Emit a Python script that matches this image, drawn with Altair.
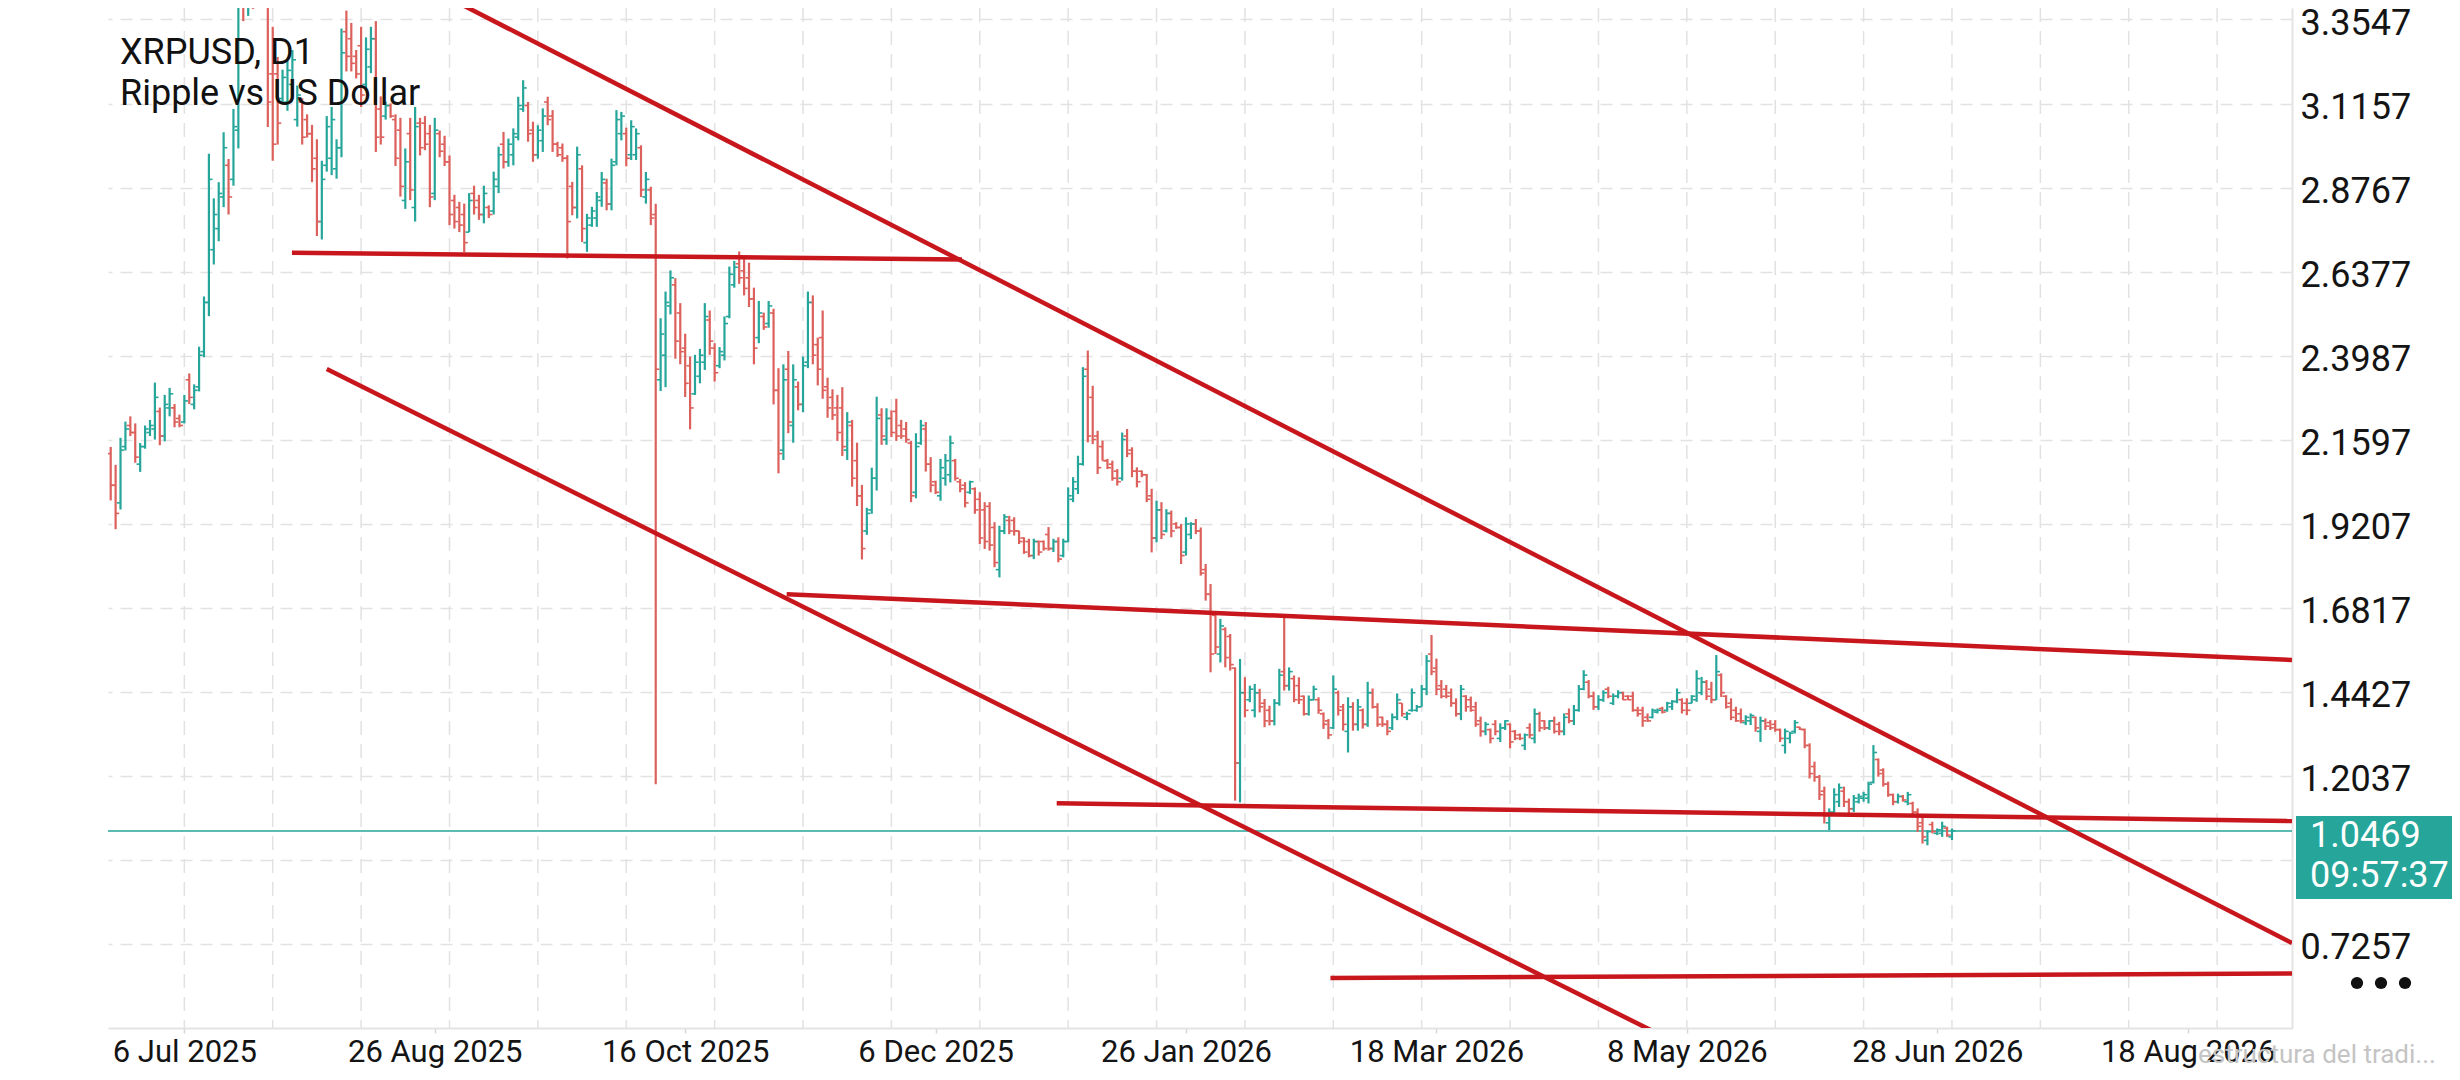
import altair as alt
import pandas as pd

# ------------------------------------------------------------------ data
first_day = "2025-06-21"

opens = [
    2.12, 2.03, 1.98, 2.14, 2.20, 2.18, 2.09, 2.14, 2.18, 2.19,
    2.24, 2.17, 2.25, 2.25, 2.22, 2.21, 2.33, 2.26, 2.31, 2.41,
    2.55, 2.70, 2.76, 2.85, 2.94, 2.90, 3.04, 3.55, 3.40, 3.55,
    3.46, 3.57, 3.45, 3.20, 3.20, 3.13, 3.12, 3.17, 3.07, 3.12,
    3.07, 3.03, 2.96, 2.78, 2.94, 2.96, 2.93, 2.99, 3.32, 3.30,
    3.25, 3.28, 3.17, 3.22, 3.30, 3.10, 3.08, 3.11, 3.07, 3.04,
    2.84, 3.03, 2.82, 3.06, 3.06, 3.03, 2.86, 3.03, 3.00, 2.95,
    2.84, 2.82, 2.80, 2.75, 2.86, 2.84, 2.80, 2.82, 2.81, 2.88,
    3.00, 2.95, 2.97, 3.02, 3.10, 3.11, 3.04, 2.97, 3.01, 3.12,
    3.08, 3.00, 2.99, 2.96, 2.88, 2.82, 2.93, 2.72, 2.77, 2.79,
    2.84, 2.89, 2.83, 2.95, 3.03, 3.03, 2.97, 2.97, 2.99, 2.85,
    2.87, 2.80, 2.33, 2.40, 2.54, 2.60, 2.52, 2.42, 2.37, 2.29,
    2.34, 2.38, 2.50, 2.42, 2.37, 2.40, 2.51, 2.60, 2.66, 2.64,
    2.62, 2.56, 2.45, 2.51, 2.49, 2.52, 2.30, 2.13, 2.36, 2.20,
    2.31, 2.26, 2.38, 2.55, 2.43, 2.45, 2.31, 2.28, 2.25, 2.25,
    2.13, 2.20, 2.10, 2.00, 1.90, 1.96, 2.05, 2.23, 2.16, 2.22,
    2.24, 2.20, 2.19, 2.15, 2.01, 2.15, 2.19, 2.09, 2.04, 2.00,
    2.05, 2.06, 2.10, 2.04, 2.03, 2.01, 2.02, 1.99, 1.96, 1.97,
    1.91, 1.79, 1.90, 1.93, 1.93, 1.90, 1.88, 1.87, 1.83, 1.87,
    1.87, 1.89, 1.85, 1.87, 1.83, 1.87, 1.99, 2.02, 2.09, 2.36,
    2.28, 2.17, 2.14, 2.10, 2.09, 2.07, 2.05, 2.17, 2.13, 2.07,
    2.07, 2.06, 2.00, 1.88, 1.96, 1.90, 1.95, 1.92, 1.91, 1.84,
    1.89, 1.92, 1.90, 1.79, 1.72, 1.66, 1.55, 1.62, 1.60, 1.51,
    1.24, 1.44, 1.42, 1.39, 1.44, 1.41, 1.39, 1.36, 1.41, 1.50,
    1.46, 1.48, 1.46, 1.43, 1.38, 1.42, 1.42, 1.38, 1.36, 1.34,
    1.44, 1.40, 1.33, 1.40, 1.35, 1.39, 1.35, 1.44, 1.40, 1.37,
    1.35, 1.34, 1.37, 1.41, 1.37, 1.39, 1.39, 1.40, 1.45, 1.55,
    1.51, 1.46, 1.45, 1.44, 1.41, 1.38, 1.43, 1.42, 1.40, 1.36,
    1.33, 1.335, 1.35, 1.31, 1.34, 1.35, 1.33, 1.32, 1.29, 1.34,
    1.31, 1.38, 1.36, 1.34, 1.36, 1.35, 1.33, 1.38, 1.36, 1.39,
    1.45, 1.47, 1.43, 1.40, 1.42, 1.45, 1.41, 1.43, 1.44, 1.43,
    1.43, 1.39, 1.39, 1.37, 1.37, 1.385, 1.395, 1.39, 1.40, 1.415,
    1.42, 1.41, 1.41, 1.42, 1.44, 1.47, 1.45, 1.42, 1.49, 1.43,
    1.41, 1.39, 1.38, 1.355, 1.36, 1.37, 1.33, 1.36, 1.355, 1.35,
    1.335, 1.29, 1.31, 1.33, 1.342, 1.335, 1.29, 1.23, 1.20, 1.16,
    1.07, 1.10, 1.13, 1.16, 1.13, 1.11, 1.13, 1.14, 1.14, 1.185,
    1.25, 1.22, 1.18, 1.15, 1.13, 1.145, 1.13, 1.125, 1.10, 1.07,
    1.02, 1.065, 1.04, 1.04, 1.055, 1.03,
]

highs = [
    2.139, 2.088, 2.165, 2.211, 2.226, 2.206, 2.150, 2.200, 2.216, 2.322,
    2.251, 2.287, 2.307, 2.261, 2.231, 2.287, 2.348, 2.317, 2.424, 2.567,
    2.973, 2.846, 2.892, 3.034, 2.958, 3.100, 3.55, 3.62, 3.63, 3.60,
    3.62, 3.60, 3.50, 3.334, 3.248, 3.212, 3.238, 3.268, 3.167, 3.131,
    3.085, 3.055, 3.014, 2.953, 3.080, 3.106, 3.014, 3.329, 3.380, 3.345,
    3.268, 3.334, 3.304, 3.334, 3.350, 3.136, 3.121, 3.116, 3.085, 3.075,
    2.988, 3.075, 3.106, 3.075, 3.080, 3.055, 3.075, 3.039, 3.024, 2.968,
    2.856, 2.836, 2.831, 2.861, 2.882, 2.856, 2.882, 2.826, 2.922, 2.993,
    3.035, 3.016, 3.045, 3.135, 3.182, 3.120, 3.064, 3.054, 3.102, 3.135,
    3.097, 3.007, 3.002, 2.969, 2.893, 2.993, 2.940, 2.802, 2.822, 2.864,
    2.921, 2.902, 2.959, 3.097, 3.092, 3.047, 3.068, 3.045, 2.997, 2.921,
    2.879, 2.831, 2.505, 2.581, 2.641, 2.619, 2.548, 2.461, 2.396, 2.401,
    2.418, 2.548, 2.527, 2.434, 2.423, 2.510, 2.652, 2.668, 2.695, 2.679,
    2.663, 2.592, 2.554, 2.521, 2.554, 2.532, 2.363, 2.374, 2.412, 2.374,
    2.325, 2.396, 2.581, 2.570, 2.450, 2.527, 2.336, 2.303, 2.287, 2.309,
    2.238, 2.216, 2.151, 2.031, 1.966, 2.080, 2.282, 2.249, 2.249, 2.243,
    2.276, 2.216, 2.210, 2.156, 2.178, 2.216, 2.210, 2.110, 2.043, 2.105,
    2.119, 2.171, 2.105, 2.048, 2.039, 2.043, 2.024, 2.010, 1.982, 1.982,
    1.925, 1.915, 1.948, 1.943, 1.939, 1.901, 1.882, 1.878, 1.878, 1.873,
    1.873, 1.911, 1.878, 1.882, 1.878, 2.024, 2.053, 2.114, 2.366, 2.413,
    2.313, 2.185, 2.157, 2.105, 2.100, 2.076, 2.180, 2.190, 2.138, 2.081,
    2.072, 2.062, 2.020, 1.986, 1.982, 1.962, 1.958, 1.925, 1.920, 1.939,
    1.925, 1.934, 1.910, 1.806, 1.749, 1.668, 1.650, 1.626, 1.607, 1.512,
    1.536, 1.484, 1.460, 1.465, 1.451, 1.422, 1.403, 1.422, 1.508, 1.659,
    1.512, 1.489, 1.484, 1.432, 1.432, 1.460, 1.427, 1.384, 1.365, 1.489,
    1.446, 1.408, 1.427, 1.413, 1.422, 1.395, 1.471, 1.452, 1.410, 1.372,
    1.362, 1.381, 1.438, 1.410, 1.386, 1.452, 1.405, 1.462, 1.547, 1.604,
    1.537, 1.476, 1.462, 1.452, 1.424, 1.462, 1.433, 1.429, 1.414, 1.372,
    1.357, 1.338, 1.362, 1.353, 1.362, 1.353, 1.334, 1.324, 1.324, 1.353,
    1.395, 1.386, 1.362, 1.362, 1.372, 1.357, 1.381, 1.395, 1.405, 1.462,
    1.504, 1.476, 1.443, 1.433, 1.447, 1.457, 1.438, 1.447, 1.443, 1.433,
    1.443, 1.400, 1.400, 1.381, 1.395, 1.395, 1.400, 1.414, 1.419, 1.452,
    1.424, 1.424, 1.433, 1.504, 1.485, 1.476, 1.471, 1.547, 1.495, 1.433,
    1.424, 1.400, 1.395, 1.376, 1.381, 1.372, 1.372, 1.367, 1.362, 1.362,
    1.338, 1.338, 1.329, 1.362, 1.343, 1.338, 1.296, 1.244, 1.206, 1.173,
    1.111, 1.168, 1.182, 1.173, 1.139, 1.149, 1.153, 1.158, 1.187, 1.291,
    1.253, 1.225, 1.187, 1.153, 1.153, 1.149, 1.158, 1.130, 1.111, 1.087,
    1.049, 1.073, 1.054, 1.073, 1.059, 1.054,
]

lows = [
    1.987, 1.905, 1.961, 2.129, 2.170, 2.094, 2.068, 2.134, 2.170, 2.160,
    2.144, 2.155, 2.226, 2.195, 2.195, 2.206, 2.261, 2.246, 2.297, 2.394,
    2.511, 2.658, 2.724, 2.821, 2.800, 2.882, 2.988, 3.350, 3.365, 3.385,
    3.42, 3.41, 3.049, 2.953, 2.999, 3.116, 3.095, 3.136, 3.050, 2.999,
    3.019, 2.892, 2.739, 2.729, 2.922, 2.912, 2.902, 2.963, 3.207, 3.207,
    3.187, 3.106, 3.156, 3.202, 2.978, 2.999, 3.070, 3.075, 2.938, 2.851,
    2.816, 2.841, 2.780, 2.968, 2.983, 2.821, 2.841, 2.963, 2.938, 2.770,
    2.760, 2.750, 2.693, 2.750, 2.800, 2.785, 2.775, 2.790, 2.800, 2.861,
    2.931, 2.936, 2.940, 3.011, 3.092, 3.007, 2.950, 2.959, 2.978, 3.054,
    2.978, 2.964, 2.950, 2.675, 2.798, 2.789, 2.722, 2.694, 2.765, 2.765,
    2.822, 2.812, 2.812, 2.940, 3.011, 2.937, 2.955, 2.955, 2.850, 2.831,
    2.770, 1.180, 2.298, 2.309, 2.516, 2.390, 2.374, 2.281, 2.189, 2.287,
    2.320, 2.358, 2.401, 2.325, 2.363, 2.385, 2.505, 2.592, 2.603, 2.570,
    2.537, 2.374, 2.434, 2.472, 2.478, 2.260, 2.064, 2.102, 2.178, 2.151,
    2.243, 2.238, 2.363, 2.374, 2.314, 2.276, 2.222, 2.216, 2.156, 2.113,
    2.102, 2.026, 1.971, 1.819, 1.889, 1.949, 2.015, 2.145, 2.145, 2.167,
    2.156, 2.162, 2.151, 1.982, 1.993, 2.145, 2.069, 2.010, 2.005, 1.986,
    2.029, 2.038, 2.043, 2.010, 1.967, 2.005, 1.949, 1.863, 1.849, 1.844,
    1.797, 1.768, 1.891, 1.891, 1.887, 1.863, 1.835, 1.825, 1.820, 1.830,
    1.844, 1.844, 1.840, 1.811, 1.825, 1.868, 1.982, 2.005, 2.086, 2.152,
    2.147, 2.062, 2.100, 2.076, 2.043, 2.029, 2.043, 2.110, 2.053, 2.024,
    2.053, 1.982, 1.839, 1.868, 1.877, 1.896, 1.882, 1.906, 1.806, 1.830,
    1.877, 1.891, 1.773, 1.702, 1.498, 1.550, 1.526, 1.512, 1.503, 1.133,
    1.128, 1.370, 1.413, 1.370, 1.384, 1.342, 1.347, 1.347, 1.403, 1.446,
    1.446, 1.413, 1.408, 1.375, 1.375, 1.418, 1.380, 1.337, 1.308, 1.337,
    1.375, 1.332, 1.270, 1.332, 1.332, 1.338, 1.343, 1.395, 1.343, 1.343,
    1.319, 1.334, 1.362, 1.372, 1.362, 1.386, 1.386, 1.400, 1.433, 1.490,
    1.433, 1.424, 1.424, 1.400, 1.372, 1.362, 1.386, 1.386, 1.343, 1.315,
    1.319, 1.296, 1.319, 1.300, 1.334, 1.282, 1.305, 1.305, 1.277, 1.310,
    1.296, 1.329, 1.334, 1.334, 1.324, 1.319, 1.319, 1.353, 1.348, 1.386,
    1.447, 1.424, 1.391, 1.391, 1.414, 1.424, 1.405, 1.424, 1.419, 1.419,
    1.386, 1.372, 1.343, 1.357, 1.367, 1.381, 1.381, 1.386, 1.391, 1.410,
    1.381, 1.376, 1.410, 1.414, 1.433, 1.419, 1.410, 1.419, 1.428, 1.395,
    1.362, 1.357, 1.353, 1.348, 1.348, 1.329, 1.300, 1.334, 1.334, 1.329,
    1.300, 1.267, 1.296, 1.324, 1.334, 1.282, 1.196, 1.187, 1.135, 1.068,
    1.049, 1.097, 1.115, 1.115, 1.097, 1.101, 1.125, 1.130, 1.125, 1.182,
    1.201, 1.173, 1.144, 1.120, 1.125, 1.130, 1.120, 1.092, 1.044, 1.011,
    1.006, 1.040, 1.035, 1.030, 1.030, 1.021,
]

closes = [
    2.03, 1.95, 2.13, 2.19, 2.18, 2.11, 2.14, 2.19, 2.20, 2.28,
    2.17, 2.26, 2.29, 2.21, 2.20, 2.27, 2.28, 2.30, 2.40, 2.55,
    2.90, 2.80, 2.86, 2.99, 2.85, 3.05, 3.45, 3.40, 3.55, 3.45,
    3.57, 3.45, 3.12, 3.00, 3.06, 3.19, 3.21, 3.24, 3.14, 3.02,
    3.03, 2.93, 2.78, 2.90, 3.05, 3.07, 2.99, 3.26, 3.25, 3.23,
    3.20, 3.14, 3.27, 3.30, 3.02, 3.02, 3.11, 3.08, 2.96, 2.88,
    2.95, 2.87, 3.05, 2.99, 3.00, 2.85, 3.04, 2.98, 2.95, 2.80,
    2.78, 2.77, 2.72, 2.84, 2.82, 2.80, 2.86, 2.80, 2.90, 2.97,
    2.95, 3.00, 3.03, 3.11, 3.16, 3.03, 2.97, 3.04, 3.08, 3.07,
    3.00, 2.97, 2.96, 2.78, 2.82, 2.97, 2.76, 2.79, 2.81, 2.85,
    2.90, 2.83, 2.94, 3.07, 3.08, 2.96, 3.05, 3.03, 2.87, 2.90,
    2.79, 2.36, 2.46, 2.55, 2.62, 2.44, 2.41, 2.32, 2.25, 2.38,
    2.40, 2.51, 2.44, 2.35, 2.41, 2.49, 2.63, 2.65, 2.62, 2.59,
    2.56, 2.42, 2.52, 2.48, 2.54, 2.30, 2.12, 2.33, 2.21, 2.33,
    2.26, 2.37, 2.55, 2.40, 2.36, 2.30, 2.25, 2.23, 2.18, 2.14,
    2.21, 2.05, 2.00, 1.85, 1.95, 2.05, 2.22, 2.17, 2.22, 2.18,
    2.17, 2.17, 2.16, 2.00, 2.14, 2.20, 2.09, 2.03, 2.01, 2.08,
    2.10, 2.15, 2.05, 2.02, 1.98, 2.04, 1.96, 1.88, 1.87, 1.86,
    1.81, 1.90, 1.94, 1.90, 1.90, 1.87, 1.84, 1.83, 1.87, 1.84,
    1.85, 1.85, 1.87, 1.82, 1.87, 2.00, 2.04, 2.09, 2.34, 2.17,
    2.16, 2.08, 2.10, 2.08, 2.05, 2.04, 2.16, 2.12, 2.07, 2.04,
    2.06, 1.99, 1.88, 1.96, 1.89, 1.95, 1.90, 1.91, 1.83, 1.92,
    1.92, 1.90, 1.78, 1.72, 1.55, 1.57, 1.63, 1.54, 1.52, 1.24,
    1.44, 1.39, 1.45, 1.44, 1.40, 1.36, 1.36, 1.41, 1.49, 1.46,
    1.50, 1.42, 1.42, 1.38, 1.42, 1.45, 1.39, 1.35, 1.32, 1.45,
    1.39, 1.35, 1.40, 1.35, 1.40, 1.35, 1.44, 1.40, 1.35, 1.35,
    1.33, 1.37, 1.42, 1.38, 1.38, 1.44, 1.40, 1.45, 1.53, 1.50,
    1.45, 1.43, 1.43, 1.41, 1.38, 1.45, 1.40, 1.39, 1.35, 1.33,
    1.35, 1.31, 1.33, 1.34, 1.36, 1.30, 1.31, 1.31, 1.32, 1.32,
    1.38, 1.34, 1.34, 1.36, 1.33, 1.33, 1.37, 1.36, 1.39, 1.45,
    1.49, 1.43, 1.40, 1.42, 1.44, 1.43, 1.43, 1.44, 1.42, 1.42,
    1.39, 1.38, 1.36, 1.36, 1.39, 1.39, 1.385, 1.41, 1.415, 1.44,
    1.39, 1.39, 1.43, 1.48, 1.47, 1.43, 1.42, 1.50, 1.44, 1.40,
    1.37, 1.36, 1.36, 1.37, 1.375, 1.34, 1.36, 1.345, 1.34, 1.335,
    1.31, 1.33, 1.325, 1.355, 1.336, 1.29, 1.21, 1.20, 1.15, 1.09,
    1.10, 1.15, 1.17, 1.13, 1.11, 1.14, 1.145, 1.15, 1.18, 1.27,
    1.21, 1.18, 1.15, 1.13, 1.145, 1.135, 1.15, 1.10, 1.06, 1.03,
    1.045, 1.045, 1.05, 1.06, 1.035, 1.0469,
]

# axis tick labels
date_ticks = ["2025-07-06", "2025-08-26", "2025-10-16", "2025-12-06", "2026-01-26",
              "2026-03-18", "2026-05-08", "2026-06-28", "2026-08-18"]
price_ticks = [3.3547, 3.1157, 2.8767, 2.6377, 2.3987, 2.1597, 1.9207,
               1.6817, 1.4427, 1.2037, 0.9647, 0.7257]
price_tick_under_box = 0.9647   # its label is hidden behind the price box

# hand-drawn trend lines (start / end)
trend_start_dates = ["2025-08-30T22:30", "2025-07-27T22:00", "2025-08-04T00:00",
                     "2025-11-05T16:00", "2025-12-30T16:00", "2026-02-24T10:00"]
trend_start_prices = [3.401, 2.6914, 2.3607, 1.7202, 1.1254, 0.6286]
trend_end_dates = ["2026-09-08T06:00", "2025-12-11T09:00", "2026-05-10T16:30",
                   "2026-09-08T06:00", "2026-09-08T06:00", "2026-09-08T06:00"]
trend_end_prices = [0.728, 2.6720, 0.4105, 1.5330, 1.0751, 0.6414]

last_price = [1.0469]
clock_text = ["09:57:37"]
symbol_text = ["XRPUSD, D1\nRipple vs US Dollar"]
watermark_text = ["estructura del tradi..."]

# ------------------------------------------------------------------ style / layout
W, H = 2184, 1020
UP, DOWN = "#26a69a", "#dc605b"
TREND = "#c8161d"
TEAL = "#26a69a"
GRID = "#e2e2e2"
FRAME = "#e4e4e4"
TXT = "#141414"
FONT = "Roboto"
x_domain = ["2025-06-20T10:48", "2026-09-08T06:00"]
y_domain = [0.4864, 3.3874]
grid_start, grid_step, grid_count = "2025-07-06", "18D", 24


def to_dt(s):
    t = pd.Timestamp(s)
    return alt.DateTime(year=t.year, month=t.month, date=t.day,
                        hours=t.hour, minutes=t.minute)


n = len(closes)
assert len(opens) == len(highs) == len(lows) == n

candles = pd.DataFrame({
    "date": pd.date_range(first_day, periods=n, freq="D"),
    "open": opens, "high": highs, "low": lows, "close": closes,
})
trends = pd.DataFrame({
    "d0": pd.to_datetime(trend_start_dates), "p0": trend_start_prices,
    "d1": pd.to_datetime(trend_end_dates), "p1": trend_end_prices,
})
grid_df = pd.DataFrame({"g": pd.date_range(grid_start, periods=grid_count, freq=grid_step)})
now_df = pd.DataFrame({"price": last_price, "clock": clock_text})

xscale = alt.Scale(domain=[to_dt(s) for s in x_domain])
yscale = alt.Scale(domain=y_domain, nice=False, zero=False)

xaxis = alt.Axis(values=[to_dt(s) for s in date_ticks], format="%-d %b %Y",
                 labelFont=FONT, labelFontSize=31, labelColor=TXT,
                 labelBaseline="alphabetic", labelPadding=28, labelLimit=0,
                 tickSize=5, tickColor="#d6d6d6", tickWidth=1.5,
                 domain=True, domainColor=FRAME, domainWidth=2,
                 grid=False, labelFlush=False, labelOverlap=False, title=None)
yaxis = alt.Axis(orient="right", values=price_ticks, format=".4f",
                 labelExpr=f"abs(datum.value - {price_tick_under_box}) < 0.0001 ? '' : datum.label",
                 labelFont=FONT, labelFontSize=36, labelColor=TXT, labelLimit=0,
                 labelPadding=8, labelBaseline="middle", labelOffset=4, ticks=False,
                 domain=True, domainColor=FRAME, domainWidth=2,
                 grid=True, gridColor=GRID, gridDash=[12, 8], gridWidth=1.5,
                 labelFlush=False, labelOverlap=False, title=None)


def X(field):
    return alt.X(field, type="temporal", scale=xscale, axis=xaxis)


def Y(field):
    return alt.Y(field, type="quantitative", scale=yscale, axis=yaxis)


dir_color = alt.Color("dir:N", scale=alt.Scale(domain=["up", "down"], range=[UP, DOWN]),
                      legend=None)

vgrid = alt.Chart(grid_df).mark_rule(color=GRID, strokeWidth=1.5, strokeDash=[14, 9]).encode(
    x=X("g"))

price_line = alt.Chart(now_df).mark_rule(color=TEAL, strokeWidth=1.6).encode(y=Y("price"))

base = alt.Chart(candles).transform_calculate(
    dir="datum.close >= datum.open ? 'up' : 'down'")

wicks = base.mark_rule(strokeWidth=2.2, clip=True).encode(
    x=X("date"), y=Y("low"), y2="high:Q", color=dir_color)
open_ticks = base.mark_tick(orient="horizontal", size=3.6, thickness=1.6, xOffset=-1.8,
                            clip=True, opacity=1).encode(
    x=X("date"), y=Y("open"), color=dir_color)
close_ticks = base.mark_tick(orient="horizontal", size=3.6, thickness=1.6, xOffset=1.8,
                             clip=True, opacity=1).encode(
    x=X("date"), y=Y("close"), color=dir_color)

trend_lines = alt.Chart(trends).mark_rule(color=TREND, strokeWidth=4.5, clip=True).encode(
    x=X("d0"), x2="d1:T", y=Y("p0"), y2="p1:Q")

symbol = alt.Chart(pd.DataFrame({"t": symbol_text})).mark_text(
    align="left", baseline="alphabetic", font=FONT, fontSize=36, color="#111111",
    lineBreak="\n", lineHeight=41).encode(
    x=alt.value(12), y=alt.value(56), text="t:N")

box = alt.Chart(now_df).mark_rect(color=TEAL, yOffset=-15, y2Offset=68).encode(
    x=alt.value(2188), x2=alt.value(2360), y=Y("price"), y2="price:Q")
box_price = alt.Chart(now_df).mark_text(
    align="left", baseline="alphabetic", dy=16, font=FONT, fontSize=36, color="white").encode(
    x=alt.value(2202), y=Y("price"), text=alt.Text("price:Q", format=".4f"))
box_clock = alt.Chart(now_df).mark_text(
    align="left", baseline="alphabetic", dy=56, font=FONT, fontSize=36, color="white").encode(
    x=alt.value(2202), y=Y("price"), text="clock:N")

one = pd.DataFrame({"k": [0]})
dots = [alt.Chart(one).mark_circle(size=150, color="#111111", opacity=1).encode(
    x=alt.value(px), y=alt.value(975)) for px in (2249, 2273, 2297)]

watermark = alt.Chart(pd.DataFrame({"t": watermark_text})).mark_text(
    align="left", baseline="alphabetic", font=FONT, fontSize=26, color="#c4c4c4").encode(
    x=alt.value(2090), y=alt.value(1055), text="t:N")

chart = alt.layer(
    vgrid, price_line, wicks, open_ticks, close_ticks, trend_lines,
    symbol, box, box_price, box_clock, *dots, watermark,
).properties(
    width=W, height=H,
    autosize=alt.AutoSizeParams(type="none"),
    padding={"left": 100, "top": 0, "right": 160, "bottom": 40},
    background="white",
).configure_view(stroke="transparent")

chart.save("out.html", embed_options={"renderer": "svg", "actions": False})
